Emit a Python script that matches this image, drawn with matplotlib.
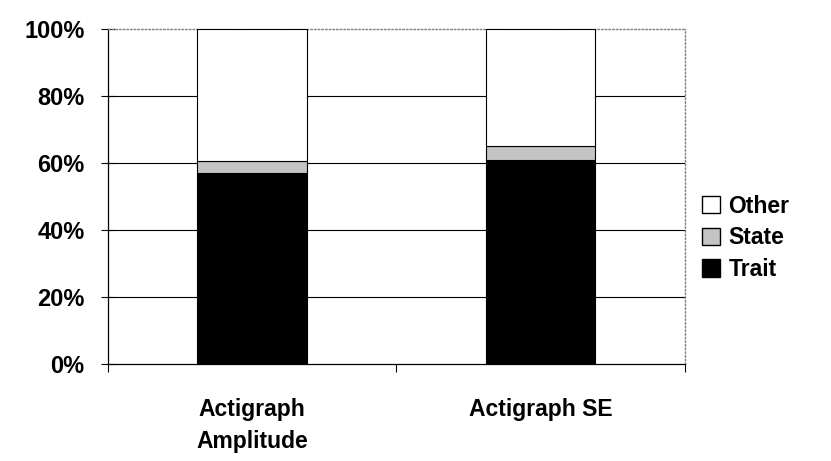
import matplotlib.pyplot as plt
import numpy as np
from matplotlib.patches import Patch

plt.rcParams["font.family"] = ["Liberation Sans", "DejaVu Sans"]
plt.rcParams["font.weight"] = "bold"

categories = ["Actigraph\nAmplitude", "Actigraph SE"]
trait = [57.0, 61.0]
state = [3.5, 4.0]
other = [100 - t - s for t, s in zip(trait, state)]
y_ticks = [0, 20, 40, 60, 80, 100]

fig = plt.figure(figsize=(8.31, 4.61), dpi=100)
ax = fig.add_axes([0.130, 0.210, 0.694, 0.727])

x = np.arange(len(categories))
w = 0.38
ax.bar(x, trait, w, color="black", edgecolor="black", linewidth=0.8, zorder=3)
ax.bar(x, state, w, bottom=trait, color="#c4c4c4", edgecolor="black", linewidth=0.8, zorder=3)
bot2 = [t + s for t, s in zip(trait, state)]
ax.bar(x, other, w, bottom=bot2, color="white", edgecolor="black", linewidth=0.8, zorder=3)

ax.set_xlim(-0.5, len(categories) - 0.5)
ax.set_ylim(0, 100)
ax.set_yticks(y_ticks)
ax.set_yticklabels([f"{v}%" for v in y_ticks], fontsize=17, fontweight="bold")
for v in y_ticks[1:-1]:
    ax.axhline(v, color="black", linewidth=0.8, zorder=1)

ax.set_xticks([-0.5, 0.5, 1.5])
ax.set_xticklabels([])
ax.tick_params(axis="x", direction="out", length=6, width=0.8)
ax.tick_params(axis="y", direction="inout", length=10, width=0.8, pad=12)
for i, c in enumerate(categories):
    ax.text(x[i], -10, c, ha="center", va="top", fontsize=16.5, fontweight="bold",
            linespacing=1.5, transform=ax.transData)

for side in ["left", "bottom"]:
    ax.spines[side].set_linewidth(0.9)
for side in ["top", "right"]:
    ax.spines[side].set_color("#808080")
    ax.spines[side].set_linestyle(":")
    ax.spines[side].set_linewidth(1.0)

handles = [
    Patch(facecolor="white", edgecolor="black", label="Other"),
    Patch(facecolor="#c4c4c4", edgecolor="black", label="State"),
    Patch(facecolor="black", edgecolor="black", label="Trait"),
]
fig.legend(handles=handles, loc="center left", bbox_to_anchor=(0.82, 0.484),
           frameon=False, handlelength=0.8, handleheight=0.8,
           handletextpad=0.35, labelspacing=0.38, prop={"weight": "bold", "size": 16.5})

fig.savefig("out.png", dpi=100)
